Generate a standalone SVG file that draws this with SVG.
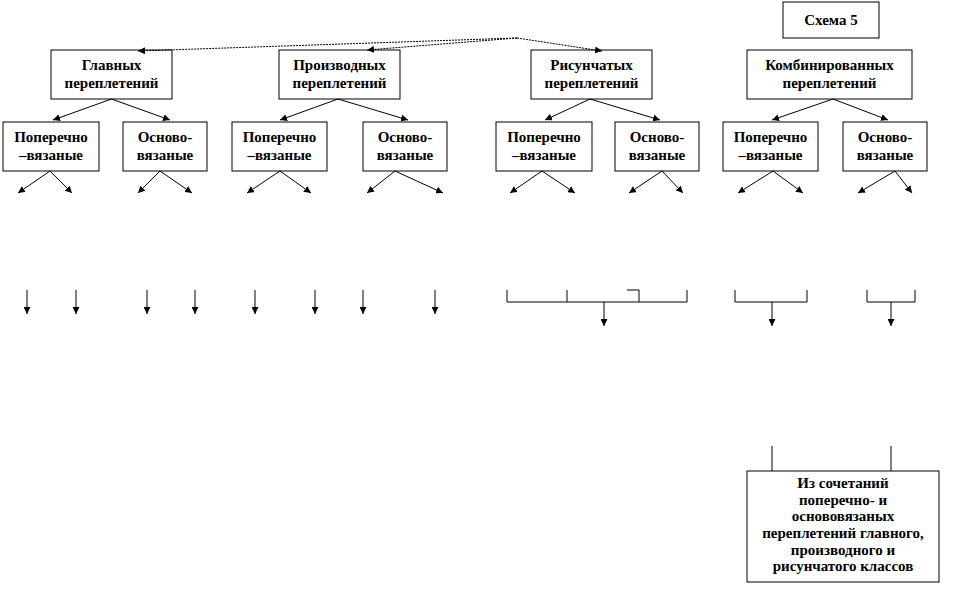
<svg xmlns="http://www.w3.org/2000/svg" width="963" height="603" viewBox="0 0 963 603">
<defs>
<marker id="ah" viewBox="0 0 10 10" refX="10" refY="5" markerWidth="7" markerHeight="7" markerUnits="userSpaceOnUse" orient="auto">
<path d="M0,0 L10,5 L0,10 z" fill="#000"/>
</marker>
</defs>
<style>
rect.n{fill:#fff;stroke:#000;stroke-width:1}
text{font-family:"Liberation Serif","Times New Roman",serif;font-weight:bold;font-size:15px;text-anchor:middle;fill:#000}
.c line,.c path{stroke:#000;stroke-width:1;fill:none}
.c .a{marker-end:url(#ah)}
.c .d{stroke-dasharray:2,1}
</style>
<rect width="963" height="603" fill="#fff"/>
<g id="schema"><rect class="n" x="783" y="2" width="96" height="36"/><text x="831" y="25">Схема 5</text></g>
<g id="main"><rect class="n" x="51" y="50" width="121" height="49"/><text x="111.5" y="70">Главных</text><text x="111.5" y="88">переплетений</text></g>
<g id="deriv"><rect class="n" x="279" y="50" width="121" height="49"/><text x="339.5" y="70">Производных</text><text x="339.5" y="88">переплетений</text></g>
<g id="pattern"><rect class="n" x="531" y="50" width="121" height="49"/><text x="591.5" y="70">Рисунчатых</text><text x="591.5" y="88">переплетений</text></g>
<g id="comb"><rect class="n" x="747" y="50" width="165" height="49"/><text x="829.5" y="70">Комбинированных</text><text x="829.5" y="88">переплетений</text></g>
<g id="p1"><rect class="n" x="3" y="122" width="96" height="49"/><text x="51" y="142">Поперечно</text><text x="51" y="160">–вязаные</text></g>
<g id="o1"><rect class="n" x="123" y="122" width="84" height="49"/><text x="165" y="142">Осново-</text><text x="165" y="160">вязаные</text></g>
<g id="p2"><rect class="n" x="232" y="122" width="95" height="49"/><text x="279.5" y="142">Поперечно</text><text x="279.5" y="160">–вязаные</text></g>
<g id="o2"><rect class="n" x="363" y="122" width="84" height="49"/><text x="405" y="142">Осново-</text><text x="405" y="160">вязаные</text></g>
<g id="p3"><rect class="n" x="496" y="122" width="96" height="49"/><text x="544" y="142">Поперечно</text><text x="544" y="160">–вязаные</text></g>
<g id="o3"><rect class="n" x="615" y="122" width="84" height="49"/><text x="657" y="142">Осново-</text><text x="657" y="160">вязаные</text></g>
<g id="p4"><rect class="n" x="723" y="122" width="95" height="49"/><text x="770.5" y="142">Поперечно</text><text x="770.5" y="160">–вязаные</text></g>
<g id="o4"><rect class="n" x="843" y="122" width="84" height="49"/><text x="885" y="142">Осново-</text><text x="885" y="160">вязаные</text></g>
<g id="combo"><rect class="n" x="747" y="471" width="192" height="111"/>
<text x="843" y="488">Из сочетаний</text><text x="843" y="505">поперечно- и</text><text x="843" y="521">основовязаных</text><text x="843" y="538">переплетений главного,</text><text x="843" y="555">производного и</text><text x="843" y="571">рисунчатого классов</text></g>
<g id="connectors" class="c">
<path class="a d" d="M517,38 L138,51"/>
<path class="a d" d="M517,38 L367,50"/>
<path class="a d" d="M517,38 L602,51"/>
<line class="a" x1="111.5" y1="99" x2="53" y2="120"/>
<line class="a" x1="111.5" y1="99" x2="170" y2="120"/>
<line class="a" x1="338" y1="99" x2="280" y2="120"/>
<line class="a" x1="338" y1="99" x2="408" y2="120"/>
<line class="a" x1="590" y1="99" x2="545" y2="120"/>
<line class="a" x1="590" y1="99" x2="660" y2="120"/>
<line class="a" x1="833" y1="99" x2="772" y2="120"/>
<line class="a" x1="833" y1="99" x2="888" y2="120"/>
<line class="a" x1="50" y1="171" x2="18" y2="193"/>
<line class="a" x1="50" y1="171" x2="72" y2="193"/>
<line class="a" x1="160" y1="171" x2="138" y2="193"/>
<line class="a" x1="160" y1="171" x2="192" y2="193"/>
<line class="a" x1="280" y1="171" x2="247" y2="193"/>
<line class="a" x1="280" y1="171" x2="311" y2="193"/>
<line class="a" x1="395" y1="171" x2="367" y2="193"/>
<line class="a" x1="395" y1="171" x2="443" y2="193"/>
<line class="a" x1="542" y1="171" x2="510" y2="193"/>
<line class="a" x1="542" y1="171" x2="575" y2="193"/>
<line class="a" x1="662" y1="171" x2="629" y2="193"/>
<line class="a" x1="662" y1="171" x2="683" y2="193"/>
<line class="a" x1="773" y1="171" x2="738" y2="193"/>
<line class="a" x1="773" y1="171" x2="803" y2="193"/>
<line class="a" x1="895" y1="171" x2="858" y2="193"/>
<line class="a" x1="895" y1="171" x2="912" y2="193"/>
<line class="a" x1="27" y1="290" x2="27" y2="314"/>
<line class="a" x1="76" y1="290" x2="76" y2="314"/>
<line class="a" x1="147" y1="290" x2="147" y2="314"/>
<line class="a" x1="195" y1="290" x2="195" y2="314"/>
<line class="a" x1="255" y1="290" x2="255" y2="314"/>
<line class="a" x1="315" y1="290" x2="315" y2="314"/>
<line class="a" x1="363" y1="290" x2="363" y2="314"/>
<line class="a" x1="435" y1="290" x2="435" y2="314"/>
<path d="M507,290 V302 H687 V290 M567,290 V302 M627,290 H639 V302"/>
<line class="a" x1="604" y1="302" x2="604" y2="326"/>
<path d="M735,290 V302 H807 V290"/>
<line class="a" x1="772" y1="302" x2="772" y2="326"/>
<path d="M867,290 V302 H915 V290"/>
<line class="a" x1="891" y1="302" x2="891" y2="326"/>
<line x1="772" y1="446" x2="772" y2="471"/>
<line x1="891" y1="446" x2="891" y2="471"/>
</g>
</svg>
